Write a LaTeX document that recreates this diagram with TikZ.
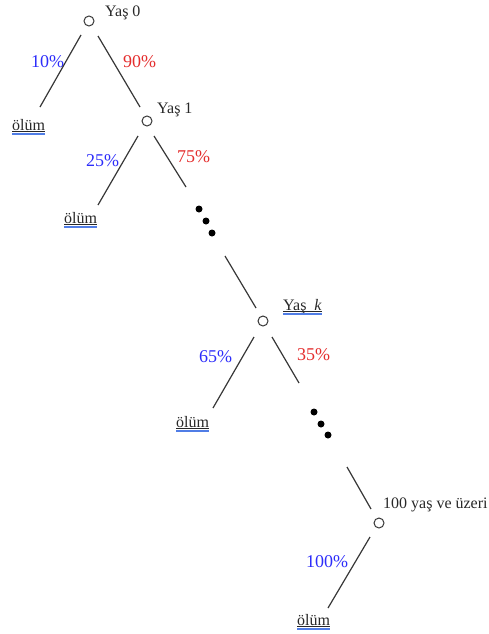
\documentclass[tikz,border=0pt]{standalone}
\usepackage{fontspec}
\setmainfont{Liberation Serif}
\definecolor{pblue}{RGB}{45,45,250}
\definecolor{pred}{RGB}{228,45,45}
\definecolor{lgray}{RGB}{55,55,55}
\definecolor{tgray}{RGB}{40,40,40}
\definecolor{ublue}{RGB}{80,125,230}
\tikzset{
 circ/.style={circle, draw=lgray, line width=1pt, minimum size=10pt, inner sep=0pt},
 txt/.style={anchor=base west, inner sep=0pt, text=tgray, font=\fontsize{16}{18}\selectfont},
 pct/.style={anchor=base west, inner sep=0pt, font=\fontsize{18}{20}\selectfont},
 edgeline/.style={draw=lgray, line width=1.2pt},
 blackdot/.style={circle, fill=black, minimum size=7pt, inner sep=0pt},
}
\newcommand\ulmark[1]{%
 \draw[tgray, line width=0.8pt] ([yshift=-1.5pt]#1.base west) -- ([yshift=-1.5pt]#1.base east);
 \draw[ublue, line width=0.6pt] ([yshift=-3pt]#1.base west) -- ([yshift=-3pt]#1.base east);
 \draw[ublue, line width=0.6pt] ([yshift=-4.6pt]#1.base west) -- ([yshift=-4.6pt]#1.base east);}
\begin{document}
\begin{tikzpicture}[x=1pt,y=-1pt]
\useasboundingbox (0,0) rectangle (489,634);
% state circles
\node[circ] (y0) at (89,21) {};
\node[circ] (y1) at (147,121) {};
\node[circ] (yk) at (263,321) {};
\node[circ] (y100) at (379,523) {};
% labels of states
\node[txt] (l0) at (105,17) {Yaş 0};
\node[txt] (l1) at (157,113) {Yaş 1};
\node[txt] (lk) at (283,310) {Yaş\ \ \textit{k}};
\node[txt] (l100) at (383,508) {100 yaş ve üzeri};
% death leaves
\node[txt] (o1) at (12,130) {ölüm};
\node[txt] (o2) at (64,223) {ölüm};
\node[txt] (o3) at (176,427) {ölüm};
\node[txt] (o4) at (297,625) {ölüm};
\ulmark{o1}\ulmark{o2}\ulmark{o3}\ulmark{o4}\ulmark{lk}
% percentages
\node[pct, text=pblue] (p10) at (31,67) {10\%};
\node[pct, text=pred] (p90) at (123,67) {90\%};
\node[pct, text=pblue] (p25) at (86,166) {25\%};
\node[pct, text=pred] (p75) at (177,162) {75\%};
\node[pct, text=pblue] (p65) at (199,362) {65\%};
\node[pct, text=pred] (p35) at (297,360) {35\%};
\node[pct, text=pblue] (p100) at (306,567) {100\%};
% edge end points
\coordinate (a1) at (81,35);   \coordinate (a2) at (40,107);
\coordinate (b1) at (98,36);   \coordinate (b2) at (140,107);
\coordinate (c1) at (138,136); \coordinate (c2) at (98,205);
\coordinate (d1) at (154,136); \coordinate (d2) at (186,187);
\coordinate (e1) at (225,256); \coordinate (e2) at (256,308);
\coordinate (f1) at (254,337); \coordinate (f2) at (213,408);
\coordinate (g1) at (272,337); \coordinate (g2) at (299,383);
\coordinate (h1) at (347,467); \coordinate (h2) at (371,509);
\coordinate (i1) at (370,537); \coordinate (i2) at (328,608);
\draw[edgeline] (a1) -- (a2);
\draw[edgeline] (b1) -- (b2);
\draw[edgeline] (c1) -- (c2);
\draw[edgeline] (d1) -- (d2);
\draw[edgeline] (e1) -- (e2);
\draw[edgeline] (f1) -- (f2);
\draw[edgeline] (g1) -- (g2);
\draw[edgeline] (h1) -- (h2);
\draw[edgeline] (i1) -- (i2);
% ellipsis dots
\node[blackdot] (da1) at (199,209) {};
\node[blackdot] (da2) at (206,221) {};
\node[blackdot] (da3) at (212,233) {};
\node[blackdot] (db1) at (314,412) {};
\node[blackdot] (db2) at (321,424) {};
\node[blackdot] (db3) at (328,435) {};
\end{tikzpicture}
\end{document}
